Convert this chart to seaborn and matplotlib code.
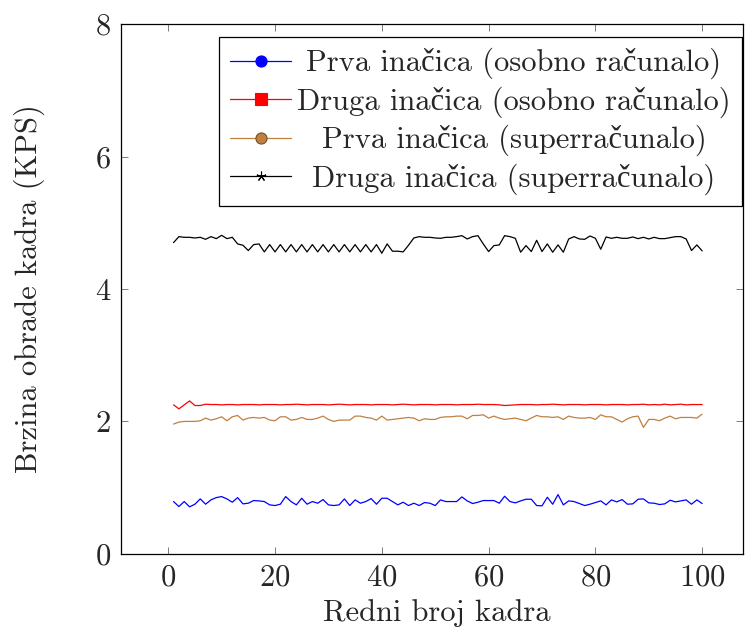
import numpy as np
import pandas as pd
import seaborn as sns
import matplotlib.pyplot as plt
from matplotlib.lines import Line2D

frames = list(range(1, 101))

prva_pc = [0.79, 0.715, 0.79, 0.71, 0.75, 0.83, 0.75, 0.815, 0.85, 0.865,
           0.83, 0.78, 0.85, 0.755, 0.765, 0.805, 0.80, 0.79, 0.74, 0.73,
           0.75, 0.865, 0.79, 0.74, 0.84, 0.75, 0.79, 0.765, 0.82, 0.74,
           0.73, 0.74, 0.83, 0.73, 0.815, 0.765, 0.79, 0.835, 0.75, 0.84,
           0.84, 0.79, 0.74, 0.78, 0.73, 0.765, 0.73, 0.775, 0.765, 0.73,
           0.815, 0.79, 0.79, 0.79, 0.86, 0.80, 0.76, 0.78, 0.805, 0.805,
           0.805, 0.765, 0.87, 0.79, 0.77, 0.80, 0.825, 0.825, 0.73, 0.725,
           0.855, 0.75, 0.895, 0.74, 0.80, 0.79, 0.76, 0.73, 0.75, 0.775,
           0.80, 0.74, 0.815, 0.785, 0.82, 0.75, 0.755, 0.825, 0.83, 0.77,
           0.765, 0.745, 0.755, 0.81, 0.785, 0.80, 0.815, 0.75, 0.815, 0.76]

druga_pc = [2.25, 2.19, 2.25, 2.31, 2.24, 2.24, 2.26, 2.255, 2.255, 2.25,
            2.255, 2.255, 2.25, 2.255, 2.255, 2.255, 2.25, 2.255, 2.255, 2.255,
            2.25, 2.255, 2.255, 2.26, 2.255, 2.25, 2.255, 2.255, 2.255, 2.25,
            2.255, 2.26, 2.255, 2.25, 2.255, 2.255, 2.255, 2.25, 2.255, 2.255,
            2.255, 2.25, 2.255, 2.26, 2.255, 2.25, 2.255, 2.255, 2.255, 2.25,
            2.255, 2.255, 2.255, 2.25, 2.255, 2.255, 2.255, 2.26, 2.255, 2.255,
            2.255, 2.25, 2.24, 2.245, 2.25, 2.255, 2.255, 2.255, 2.25, 2.255,
            2.255, 2.26, 2.255, 2.25, 2.255, 2.255, 2.255, 2.25, 2.255, 2.255,
            2.255, 2.25, 2.255, 2.255, 2.255, 2.25, 2.255, 2.255, 2.26, 2.25,
            2.255, 2.25, 2.26, 2.25, 2.255, 2.26, 2.25, 2.255, 2.255, 2.255]

prva_super = [1.96, 1.99, 2.00, 2.00, 2.00, 2.01, 2.05, 2.02, 2.04, 2.07,
              2.01, 2.07, 2.09, 2.02, 2.05, 2.06, 2.05, 2.06, 2.02, 2.01,
              2.07, 2.07, 2.02, 2.03, 2.06, 2.03, 2.03, 2.05, 2.08, 2.03,
              2.00, 2.02, 2.02, 2.02, 2.08, 2.08, 2.06, 2.05, 2.02, 2.08,
              2.02, 2.03, 2.04, 2.05, 2.06, 2.05, 2.01, 2.04, 2.03, 2.03,
              2.06, 2.07, 2.07, 2.08, 2.08, 2.04, 2.09, 2.09, 2.10, 2.05,
              2.08, 2.05, 2.03, 2.04, 2.05, 2.03, 2.01, 2.05, 2.09, 2.07,
              2.07, 2.06, 2.07, 2.03, 2.08, 2.06, 2.05, 2.05, 2.06, 2.03,
              2.10, 2.07, 2.07, 2.03, 1.99, 2.04, 2.07, 2.08, 1.91, 2.03,
              2.03, 2.01, 2.05, 2.08, 2.04, 2.06, 2.06, 2.06, 2.05, 2.11]

druga_super = [4.70, 4.79, 4.78, 4.78, 4.77, 4.78, 4.75, 4.79, 4.76, 4.81,
               4.76, 4.78, 4.68, 4.66, 4.58, 4.67, 4.68, 4.56, 4.67, 4.56,
               4.67, 4.56, 4.67, 4.56, 4.67, 4.56, 4.67, 4.56, 4.67, 4.56,
               4.67, 4.56, 4.67, 4.56, 4.67, 4.56, 4.67, 4.56, 4.67, 4.54,
               4.68, 4.57, 4.57, 4.56, 4.66, 4.77, 4.79, 4.78, 4.78, 4.77,
               4.765, 4.78, 4.78, 4.79, 4.805, 4.755, 4.79, 4.805, 4.68, 4.565,
               4.655, 4.665, 4.805, 4.79, 4.765, 4.555, 4.655, 4.565, 4.735, 4.565,
               4.68, 4.555, 4.665, 4.555, 4.755, 4.79, 4.755, 4.75, 4.80, 4.765,
               4.60, 4.785, 4.765, 4.78, 4.765, 4.765, 4.785, 4.76, 4.78, 4.755,
               4.78, 4.76, 4.76, 4.775, 4.79, 4.79, 4.755, 4.58, 4.665, 4.575]

labels = ["Prva inačica (osobno računalo)",
          "Druga inačica (osobno računalo)",
          "Prva inačica (superračunalo)",
          "Druga inačica (superračunalo)"]
colors = ["#0000ff", "#ff0000", "#bf8040", "#000000"]
markers = ["o", "s", "o", (5, 2, 0)]

df = pd.concat([
    pd.DataFrame({"frame": frames, "kps": vals, "series": lab})
    for vals, lab in zip([prva_pc, druga_pc, prva_super, druga_super], labels)
])

sns.set_style("ticks")
# cmr10 has no č, Liberation Serif fills it in
plt.rcParams["font.family"] = ["cmr10", "Liberation Serif"]
plt.rcParams["axes.formatter.use_mathtext"] = True

fs = 22
fig = plt.figure(figsize=(7.45, 6.33), dpi=100)
ax = fig.add_axes([0.162, 0.125, 0.835, 0.837])

sns.lineplot(data=df, x="frame", y="kps", hue="series", hue_order=labels,
             palette=colors, linewidth=0.9, legend=False, ax=ax)

ax.set_xlim(-8.9, 107.6)
ax.set_ylim(0, 8)
ax.set_xticks([0, 20, 40, 60, 80, 100])
ax.set_yticks([0, 2, 4, 6, 8])
ax.tick_params(direction="in", top=True, right=True, length=5, width=0.6,
               labelsize=fs, color="#666666", pad=7)
for s in ax.spines.values():
    s.set_linewidth(0.9)
    s.set_color("black")
ax.set_xlabel("Redni broj kadra", fontsize=fs)
ax.set_ylabel("Brzina obrade kadra (KPS)", fontsize=fs)
ax.xaxis.set_label_coords(0.508, -0.085)
ax.yaxis.set_label_coords(-0.122, 0.5)

handles = []
for c, m, lab in zip(colors, markers, labels):
    ec = "#7a4f26" if c == "#bf8040" else c
    ms = 7 if c == "#000000" else 8
    handles.append(Line2D([], [], color=c, lw=0.9, marker=m, markersize=ms,
                          markeredgewidth=0.8, markerfacecolor=c,
                          markeredgecolor=ec, label=lab))
leg = ax.legend(handles=handles, loc="upper right", bbox_to_anchor=(0.998, 0.975),
                borderaxespad=0, fontsize=fs, frameon=True,
                fancybox=False, framealpha=1, edgecolor="black",
                handlelength=2.0, handletextpad=0.2,
                labelspacing=0.23, borderpad=0.35)
leg.get_frame().set_linewidth(0.9)

# centre the legend texts like pgfplots does
fig.canvas.draw()
r = fig.canvas.get_renderer()
texts = leg.get_texts()
ws = [t.get_window_extent(r).width for t in texts]
for t, w in zip(texts, ws):
    t.set_x((max(ws) - w) / 2)

fig.savefig("out.png", dpi=100)
